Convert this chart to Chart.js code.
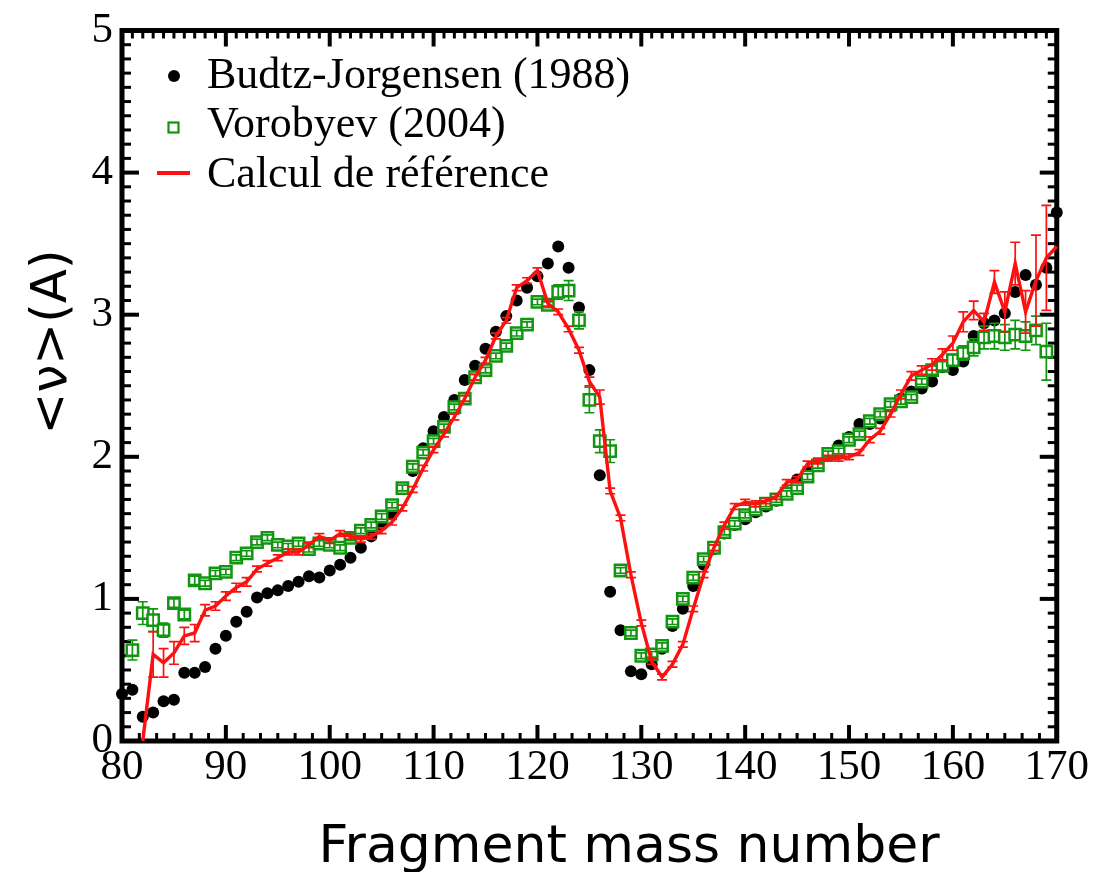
<!DOCTYPE html>
<html>
<head>
<meta charset="utf-8">
<title>Multiplicité moyenne des neutrons</title>
<script src="https://cdn.jsdelivr.net/npm/chart.js@4.4.1/dist/chart.umd.min.js"></script>
<style>
  body { margin: 0; background: #fff; }
  #wrap { width: 1094px; height: 872px; position: relative; }
</style>
</head>
<body>
<div id="wrap"><canvas id="graphNu"></canvas></div>
<script>
// masses des fragments
const massNumbers = [
  80, 81, 82, 83, 84, 85, 86, 87, 88, 89,
  90, 91, 92, 93, 94, 95, 96, 97, 98, 99,
  100, 101, 102, 103, 104, 105, 106, 107, 108, 109,
  110, 111, 112, 113, 114, 115, 116, 117, 118, 119,
  120, 121, 122, 123, 124, 125, 126, 127, 128, 129,
  130, 131, 132, 133, 134, 135, 136, 137, 138, 139,
  140, 141, 142, 143, 144, 145, 146, 147, 148, 149,
  150, 151, 152, 153, 154, 155, 156, 157, 158, 159,
  160, 161, 162, 163, 164, 165, 166, 167, 168, 169,
  170
];

// Budtz-Jorgensen (1988)
const budtzNu = [
  0.33, 0.36, 0.17, 0.20, 0.28, 0.29, 0.48, 0.48, 0.52, 0.65,
  0.74, 0.84, 0.91, 1.01, 1.04, 1.06, 1.09, 1.12, 1.16, 1.15,
  1.20, 1.24, 1.29, 1.36, 1.44, 1.52, 1.60, 1.78, 1.90, 2.06,
  2.18, 2.28, 2.40, 2.54, 2.64, 2.76, 2.88, 2.99, 3.10, 3.19,
  3.27, 3.36, 3.48, 3.33, 3.05, 2.61, 1.87, 1.05, 0.78, 0.49,
  0.47, 0.54, 0.65, 0.81, 0.93, 1.09, 1.24, 1.35, 1.46, 1.52,
  1.56, 1.61, 1.65, 1.69, 1.75, 1.84, 1.90, 1.94, 2.02, 2.08,
  2.14, 2.23, 2.23, 2.27, 2.36, 2.41, 2.46, 2.48, 2.53, 2.63,
  2.61, 2.67, 2.85, 2.94, 2.96, 3.01, 3.16, 3.28, 3.21, 3.33,
  3.72
];

// Vorobyev (2004)
const vorobyevNu = [
  null, 0.64, 0.90, 0.85, 0.78, 0.97, 0.89, 1.13, 1.11, 1.18,
  1.19, 1.29, 1.32, 1.40, 1.43, 1.38, 1.37, 1.39, 1.35, 1.39,
  1.38, 1.36, 1.43, 1.48, 1.52, 1.58, 1.66, 1.78, 1.93, 2.03,
  2.11, 2.21, 2.35, 2.41, 2.56, 2.61, 2.71, 2.78, 2.87, 2.93,
  3.09, 3.07, 3.16, 3.17, 2.96, 2.40, 2.11, 2.04, 1.20, 0.76,
  0.60, 0.61, 0.67, 0.84, 1.00, 1.15, 1.28, 1.36, 1.47, 1.53,
  1.59, 1.63, 1.67, 1.70, 1.74, 1.78, 1.86, 1.94, 2.02, 2.04,
  2.12, 2.16, 2.25, 2.30, 2.37, 2.39, 2.42, 2.53, 2.61, 2.64,
  2.68, 2.73, 2.77, 2.84, 2.85, 2.84, 2.86, 2.85, 2.89, 2.74,
  null
];
const vorobyevErr = [
  0, 0.07, 0.08, 0.08, 0.05, 0.03, 0.03, 0.03, 0.02, 0.02,
  0.02, 0.02, 0.02, 0.02, 0.02, 0.02, 0.02, 0.02, 0.02, 0.02,
  0.02, 0.02, 0.02, 0.02, 0.02, 0.02, 0.02, 0.02, 0.02, 0.02,
  0.02, 0.02, 0.02, 0.02, 0.02, 0.02, 0.02, 0.02, 0.02, 0.02,
  0.02, 0.02, 0.05, 0.07, 0.06, 0.09, 0.08, 0.08, 0.02, 0.02,
  0.02, 0.02, 0.02, 0.02, 0.02, 0.02, 0.02, 0.02, 0.02, 0.02,
  0.02, 0.02, 0.02, 0.02, 0.02, 0.02, 0.02, 0.02, 0.02, 0.02,
  0.02, 0.02, 0.02, 0.02, 0.02, 0.02, 0.02, 0.02, 0.03, 0.03,
  0.04, 0.05, 0.06, 0.08, 0.09, 0.09, 0.10, 0.10, 0.10, 0.20,
  0
];

// Calcul de référence
const calculNu = [
  null, null, 0.00, 0.61, 0.55, 0.62, 0.74, 0.76, 0.92, 0.95,
  1.02, 1.08, 1.12, 1.21, 1.25, 1.29, 1.33, 1.33, 1.38, 1.44,
  1.41, 1.46, 1.44, 1.42, 1.44, 1.48, 1.54, 1.64, 1.77, 1.92,
  2.05, 2.16, 2.28, 2.41, 2.56, 2.68, 2.85, 2.96, 3.19, 3.24,
  3.31, 3.08, 3.02, 2.90, 2.75, 2.53, 2.42, 1.76, 1.57, 1.17,
  0.83, 0.56, 0.45, 0.54, 0.68, 0.93, 1.17, 1.36, 1.52, 1.65,
  1.68, 1.67, 1.69, 1.72, 1.82, 1.84, 1.95, 1.97, 1.99, 1.99,
  2.00, 2.03, 2.12, 2.18, 2.30, 2.44, 2.57, 2.61, 2.65, 2.72,
  2.80, 2.95, 3.03, 2.95, 3.23, 3.02, 3.36, 3.02, 3.24, 3.40,
  3.48
];
const calculErr = [
  0, 0, 0, 0.16, 0.10, 0.08, 0.06, 0.06, 0.04, 0.03,
  0.03, 0.03, 0.03, 0.02, 0.02, 0.02, 0.02, 0.02, 0.02, 0.02,
  0.02, 0.02, 0.02, 0.02, 0.02, 0.02, 0.02, 0.02, 0.02, 0.02,
  0.02, 0.02, 0.02, 0.02, 0.02, 0.02, 0.02, 0.02, 0.02, 0.02,
  0.02, 0.02, 0.02, 0.02, 0.02, 0.03, 0.05, 0.02, 0.02, 0.02,
  0.02, 0.02, 0.02, 0.02, 0.02, 0.02, 0.02, 0.02, 0.02, 0.02,
  0.02, 0.02, 0.02, 0.02, 0.02, 0.02, 0.02, 0.02, 0.02, 0.02,
  0.02, 0.02, 0.02, 0.02, 0.02, 0.03, 0.03, 0.03, 0.04, 0.04,
  0.05, 0.07, 0.065, 0.06, 0.08, 0.14, 0.15, 0.15, 0.32, 0.37,
  0
];

const xTicks = [80, 90, 100, 110, 120, 130, 140, 150, 160, 170];
const yTicks = [0, 1, 2, 3, 4, 5];

const RED = '#ff1010';
const GREEN = '#129612';

function toPoints(values) {
  return massNumbers.map((m, i) => ({ x: m, y: values[i] }));
}

// barres d'erreur verticales, dessinées juste après leur jeu de données
const errorBars = {
  id: 'errorBars',
  afterDatasetDraw(chart, args) {
    const ds = chart.data.datasets[args.index];
    if (!ds.errors) return;
    const { ctx, scales: { x, y } } = chart;
    ctx.save();
    ctx.strokeStyle = ds.errorColor;
    ctx.lineWidth = 1.7;
    ds.data.forEach((p, i) => {
      const e = ds.errors[i];
      if (p.y === null || !e) return;
      const px = x.getPixelForValue(p.x);
      const top = y.getPixelForValue(p.y + e);
      const bot = y.getPixelForValue(p.y - e);
      ctx.beginPath();
      ctx.moveTo(px, top); ctx.lineTo(px, bot);
      ctx.moveTo(px - 5, top); ctx.lineTo(px + 5, top);
      ctx.moveTo(px - 5, bot); ctx.lineTo(px + 5, bot);
      ctx.stroke();
    });
    ctx.restore();
  }
};

// cadre et graduations vers l'intérieur
const frameTicks = {
  id: 'frameTicks',
  beforeDatasetsDraw(chart) {
    const { ctx, chartArea: a, scales: { x, y } } = chart;
    ctx.save();
    ctx.strokeStyle = '#000';
    ctx.lineCap = 'butt';

    const tick = (x1, y1, x2, y2, w) => {
      ctx.lineWidth = w;
      ctx.beginPath(); ctx.moveTo(x1, y1); ctx.lineTo(x2, y2); ctx.stroke();
    };

    // bas : 6 intervalles entre deux graduations principales
    for (let i = 0; i <= 54; i++) {
      const px = x.getPixelForValue(80 + i * 10 / 6);
      const major = i % 6 === 0;
      tick(px, a.bottom, px, a.bottom - (major ? 16 : 8), major ? 4 : 3);
    }
    // haut : une graduation par unité de masse
    for (let i = 0; i <= 90; i++) {
      const px = x.getPixelForValue(80 + i);
      const major = i % 10 === 0;
      tick(px, a.top, px, a.top + (major ? 16 : 8), major ? 4 : 3);
    }
    // gauche et droite : pas de 0.1
    for (let i = 0; i <= 50; i++) {
      const py = y.getPixelForValue(i / 10);
      const major = i % 10 === 0;
      tick(a.left, py, a.left + (major ? 17 : 9), py, major ? 4 : 3);
      tick(a.right, py, a.right - (major ? 17 : 9), py, major ? 4 : 3);
    }

    ctx.lineWidth = 5;
    ctx.strokeRect(a.left, a.top, a.right - a.left, a.bottom - a.top);
    ctx.restore();
  }
};

// légende et titres des axes
const annotations = {
  id: 'annotations',
  afterDraw(chart) {
    const { ctx } = chart;
    ctx.save();

    ctx.fillStyle = '#000';
    ctx.beginPath();
    ctx.arc(174, 76, 6, 0, Math.PI * 2);
    ctx.fill();

    ctx.strokeStyle = GREEN;
    ctx.lineWidth = 2.2;
    ctx.strokeRect(168.5, 122.5, 10, 10);

    ctx.strokeStyle = RED;
    ctx.lineWidth = 4;
    ctx.beginPath(); ctx.moveTo(157, 173); ctx.lineTo(190, 173); ctx.stroke();

    ctx.fillStyle = '#000';
    ctx.font = '44px "Liberation Serif"';
    ctx.textAlign = 'left';
    ctx.textBaseline = 'alphabetic';
    ctx.fillText('Budtz-Jorgensen (1988)', 207, 88);
    ctx.fillText('Vorobyev (2004)', 207, 137);
    ctx.fillText('Calcul de référence', 207, 187);

    ctx.font = '52px "DejaVu Sans"';
    ctx.textAlign = 'center';
    ctx.fillText('Fragment mass number', 629, 862);

    ctx.translate(66, 342);
    ctx.rotate(-Math.PI / 2);
    ctx.font = '50px "DejaVu Sans"';
    ctx.fillText('<ν>(A)', 0, 0);

    ctx.restore();
  }
};

const tickFont = { family: 'Liberation Serif', size: 43, lineHeight: 1 };

new Chart(document.getElementById('graphNu'), {
  type: 'line',
  data: {
    datasets: [
      {
        label: 'Calcul de référence',
        data: toPoints(calculNu),
        errors: calculErr,
        errorColor: RED,
        borderColor: RED,
        borderWidth: 3.4,
        pointRadius: 0,
        spanGaps: false,
        clip: false
      },
      {
        label: 'Vorobyev (2004)',
        data: toPoints(vorobyevNu),
        errors: vorobyevErr,
        errorColor: GREEN,
        showLine: false,
        pointStyle: 'rect',
        pointRadius: 8,
        borderColor: GREEN,
        borderWidth: 2.5,
        backgroundColor: '#fff',
        clip: false
      },
      {
        label: 'Budtz-Jorgensen (1988)',
        data: toPoints(budtzNu),
        showLine: false,
        pointStyle: 'circle',
        pointRadius: 6,
        borderWidth: 0,
        backgroundColor: '#000',
        clip: false
      }
    ]
  },
  options: {
    responsive: true,
    maintainAspectRatio: false,
    animation: false,
    events: [],
    layout: { padding: { top: 22, right: 37, left: 0, bottom: 0 } },
    scales: {
      x: {
        type: 'linear',
        min: 80,
        max: 170,
        afterBuildTicks: (s) => { s.ticks = xTicks.map(v => ({ value: v })); },
        afterFit: (s) => { s.height = 131; },
        grid: { display: false, drawTicks: false },
        border: { display: false },
        ticks: { font: tickFont, color: '#000', padding: 5, maxRotation: 0, autoSkip: false }
      },
      y: {
        type: 'linear',
        min: 0,
        max: 5,
        afterBuildTicks: (s) => { s.ticks = yTicks.map(v => ({ value: v })); },
        afterFit: (s) => { s.width = 122; },
        grid: { display: false, drawTicks: false },
        border: { display: false },
        ticks: { font: tickFont, color: '#000', padding: 9, autoSkip: false }
      }
    },
    plugins: {
      legend: { display: false },
      tooltip: { enabled: false }
    }
  },
  plugins: [frameTicks, errorBars, annotations]
});
</script>
</body>
</html>
